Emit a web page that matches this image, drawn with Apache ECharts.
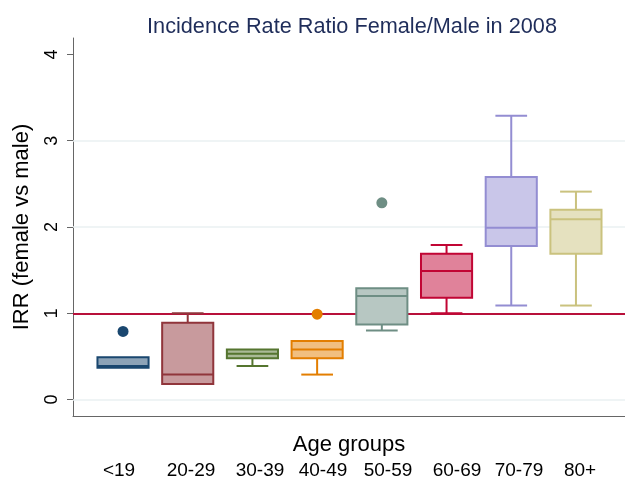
<!DOCTYPE html>
<html>
<head>
<meta charset="utf-8">
<script src="https://cdn.jsdelivr.net/npm/echarts@6/dist/echarts.min.js"></script>
<style>html,body{margin:0;padding:0;background:#fff}#c{width:625px;height:478px}</style>
</head>
<body>
<div id="c"></div>
<script>
// ---- data ----
const categories = ['<19', '20-29', '30-39', '40-49', '50-59', '60-69', '70-79', '80+'];
const whiskerLow  = [0.37, 0.18, 0.39, 0.29, 0.80, 1.00, 1.09, 1.09];
const quartile1   = [0.37, 0.18, 0.48, 0.48, 0.87, 1.18, 1.78, 1.69];
const medians     = [0.39, 0.29, 0.53, 0.58, 1.20, 1.49, 1.99, 2.09];
const quartile3   = [0.49, 0.89, 0.58, 0.68, 1.29, 1.69, 2.58, 2.20];
const whiskerHigh = [0.49, 1.00, 0.58, 0.68, 1.29, 1.79, 3.29, 2.41];
const outlierGroup = [0, 3, 4];
const outlierValue = [0.79, 0.99, 2.28];
const yTicks = [0, 1, 2, 3, 4];
const gridValues = [0, 1, 2, 3];
const referenceValue = 1;

// ---- styles / layout ----
const lineColors = ['#1a476f', '#90353b', '#55752f', '#e37e00', '#6e8e84', '#c10534', '#938dd2', '#cac27e'];
function blend(hex, t) {
  const n = parseInt(hex.slice(1), 16);
  const r = n >> 16, g = (n >> 8) & 255, b = n & 255;
  const m = v => Math.round(v + (255 - v) * t);
  return 'rgb(' + m(r) + ',' + m(g) + ',' + m(b) + ')';
}
const fillColors = lineColors.map(c => blend(c, 0.5));
const labelX = [119, 191, 260, 323, 388, 457, 519, 580];
const FONT = '"Liberation Sans", Arial, Helvetica, sans-serif';

const boxData = categories.map((c, i) => [i, whiskerLow[i], quartile1[i], medians[i], quartile3[i], whiskerHigh[i]]);
const outlierData = outlierGroup.map((g, k) => ({ value: [g, outlierValue[k]], itemStyle: { color: lineColors[g], opacity: 1 } }));

const chart = echarts.init(document.getElementById('c'), null, { renderer: 'canvas' });
chart.setOption({
  backgroundColor: '#fff',
  animation: false,
  title: {
    text: 'Incidence Rate Ratio Female/Male in 2008',
    left: 347,
    textAlign: 'center',
    top: 11,
    textStyle: { fontFamily: FONT, fontSize: 21.7, fontWeight: 'normal', color: '#1f2d5a' }
  },
  grid: { left: 73, right: 0, top: 38, bottom: 62, containLabel: false },
  xAxis: {
    type: 'value',
    min: -0.773,
    max: 7.758,
    name: 'Age groups',
    nameLocation: 'middle',
    nameGap: 18,
    nameTextStyle: { fontFamily: FONT, fontSize: 22, color: '#000', verticalAlign: 'top' },
    axisLine: { show: true, onZero: false, lineStyle: { color: '#666', width: 1 } },
    axisTick: { show: false },
    axisLabel: { show: false },
    splitLine: { show: false }
  },
  yAxis: {
    type: 'value',
    min: -0.19,
    max: 4.19,
    name: 'IRR (female vs male)',
    nameLocation: 'middle',
    nameGap: 40,
    nameRotate: 90,
    nameTextStyle: { fontFamily: FONT, fontSize: 22, color: '#000' },
    axisLine: { show: true, onZero: false, lineStyle: { color: '#666', width: 1 } },
    axisTick: { show: true, length: 6, customValues: yTicks, lineStyle: { color: '#666' } },
    axisLabel: { customValues: yTicks, rotate: 90, margin: 12, fontFamily: FONT, fontSize: 18, color: '#000' },
    splitLine: { show: false }
  },
  graphic: categories.map((c, i) => ({
    type: 'text',
    x: labelX[i],
    y: 471,
    style: { text: c, fontFamily: FONT, fontSize: 19, fill: '#000', align: 'center', verticalAlign: 'middle' }
  })),
  series: [
    {
      type: 'scatter',
      z: 4,
      symbol: 'circle',
      symbolSize: 11,
      itemStyle: { opacity: 1 },
      data: outlierData,
      markLine: {
        z: 1,
        silent: true,
        symbol: ['none', 'none'],
        label: { show: false },
        animation: false,
        data: gridValues.map(v => ({ yAxis: v, lineStyle: { color: '#eaf1f2', width: 1.5, type: 'solid' } }))
          .concat([{ yAxis: referenceValue, lineStyle: { color: '#b8103a', width: 1.8, type: 'solid' } }])
      }
    },
    {
      type: 'custom',
      z: 3,
      data: boxData,
      encode: { x: 0, y: [1, 2, 3, 4, 5] },
      renderItem: function (params, api) {
        const i = params.dataIndex;
        const x = api.value(0);
        const lo = api.coord([x, api.value(1)]);
        const q1 = api.coord([x, api.value(2)]);
        const md = api.coord([x, api.value(3)]);
        const q3 = api.coord([x, api.value(4)]);
        const hi = api.coord([x, api.value(5)]);
        const band = api.size([1, 0])[0];
        const bw = band * 0.395;
        const cw = band * 0.245;
        const cx = q1[0];
        const col = lineColors[i];
        const ls = { stroke: col, lineWidth: 2, fill: null };
        const ch = [];
        if (hi[1] < q3[1] - 0.5) {
          ch.push({ type: 'line', shape: { x1: cx, y1: q3[1], x2: cx, y2: hi[1] }, style: ls });
          ch.push({ type: 'line', shape: { x1: cx - cw, y1: hi[1], x2: cx + cw, y2: hi[1] }, style: ls });
        }
        if (lo[1] > q1[1] + 0.5) {
          ch.push({ type: 'line', shape: { x1: cx, y1: q1[1], x2: cx, y2: lo[1] }, style: ls });
          ch.push({ type: 'line', shape: { x1: cx - cw, y1: lo[1], x2: cx + cw, y2: lo[1] }, style: ls });
        }
        ch.push({ type: 'rect', shape: { x: cx - bw, y: q3[1], width: 2 * bw, height: q1[1] - q3[1] }, style: { fill: fillColors[i], stroke: col, lineWidth: 2 } });
        ch.push({ type: 'line', shape: { x1: cx - bw, y1: md[1], x2: cx + bw, y2: md[1] }, style: ls });
        return { type: 'group', children: ch };
      }
    }
  ]
});
</script>
</body>
</html>
